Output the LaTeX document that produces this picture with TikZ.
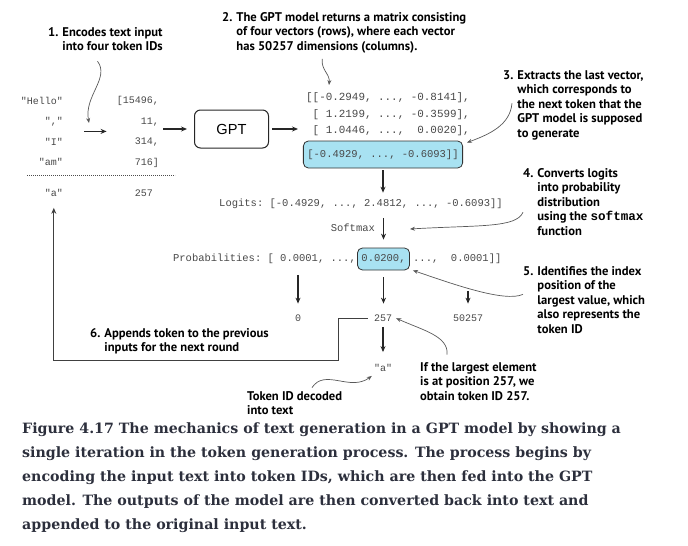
\documentclass[tikz,border=0pt]{standalone}
\usepackage{fontspec}
\usepackage{tikz}
\usetikzlibrary{arrows.meta}
\setmainfont{DejaVu Serif}
\setmonofont{Liberation Mono}
\newfontfamily\annfont{PT Sans}
\newfontfamily\gptfont{Liberation Sans}
\definecolor{hilite}{RGB}{168,226,242}
\definecolor{capgray}{RGB}{44,47,60}
\definecolor{codegray}{RGB}{72,72,72}
\tikzset{
  ann/.style={font=\annfont\bfseries\fontsize{12.6}{14.6}\selectfont,inner sep=0pt,anchor=base west},
  code/.style={font=\ttfamily\fontsize{10.5}{12}\selectfont,text=codegray,inner sep=0pt},
  smallcode/.style={code,font=\ttfamily\fontsize{10}{12}\selectfont},
  leftcode/.style={font=\ttfamily\fontsize{10}{20.5}\selectfont,text=codegray,inner sep=0pt,align=right,anchor=east},
  hibox/.style={code,draw=black!80,fill=hilite,rounded corners=5pt,line width=0.8pt,inner xsep=4pt},
  arr/.style={-{Stealth[length=6pt,width=5pt]},line width=1.1pt,draw=black!85},
  curly/.style={-{Stealth[length=5pt,width=4pt]},line width=0.7pt,draw=black!65},
  back/.style={-{Stealth[length=6pt,width=5pt]},line width=0.9pt,draw=black!75}
}

\begin{document}
\begin{tikzpicture}[x=1pt,y=-1pt]\useasboundingbox (0,0) rectangle (688,546);
\node[leftcode] (0) at (63,131.4) {"Hello"\\","\\"I"\\"am"};
\node[smallcode,anchor=base east] (4) at (63,196.5) {"a"};
\node[leftcode] (5) at (159,132) {[15496,\\11,\\314,\\716]};
\node[smallcode,anchor=base east] (9) at (153,196.5) {257};
\node[draw=black!85,rounded corners=6pt,line width=1pt,minimum width=74pt,minimum height=38pt,font=\gptfont\fontsize{14.6}{16}\selectfont] (10) at (231.5,129) {GPT};
\node[code,font=\ttfamily\fontsize{10.9}{12}\selectfont,anchor=base west] (11) at (306,100.5) {[[-0.2949, ..., -0.8141],};
\node[code,font=\ttfamily\fontsize{10.9}{12}\selectfont,anchor=base west] (12) at (306,117) {\phantom{[}[ 1.2199, ..., -0.3599],};
\node[code,font=\ttfamily\fontsize{10.9}{12}\selectfont,anchor=base west] (13) at (306,133) {\phantom{[}[ 1.0446, ..., \ 0.0020],};
\node[hibox,minimum height=27pt] (14) at (383,154.5) {[-0.4929, ..., -0.6093]]};
\node[code,anchor=base west] (15) at (219,206.5) {Logits: [-0.4929, ..., 2.4812, ..., -0.6093]]};
\node[hibox,minimum height=22pt] (17) at (383.5,259) {0.0200,};
\node[code,anchor=base east] (16) at ([xshift=-1pt]17.base west) {Probabilities: [ 0.0001, ...,};
\node[code,anchor=base west] (18) at ([xshift=3pt]17.base east) {..., \ 0.0001]]};
\node[smallcode,anchor=base] (19) at (298,321.5) {0};
\node[smallcode,anchor=base] (20) at (383,321.5) {257};
\node[smallcode,anchor=base] (21) at (468,321.5) {50257};
\node[smallcode,anchor=base] (22) at (383,371.5) {"a"};
\node[ann] (23) at (48,36) {\begin{tabular}[t]{@{}l@{\hspace{4pt}}l@{}}1. & Encodes text input\\ & into four token IDs\end{tabular}};
\node[ann] (24) at (222,21) {\begin{tabular}[t]{@{}l@{\hspace{4pt}}l@{}}2. & The GPT model returns a matrix consisting\\ & of four vectors (rows), where each vector\\ & has 50257 dimensions (columns).\end{tabular}};
\node[ann] (25) at (503,79) {\begin{tabular}[t]{@{}l@{\hspace{4pt}}l@{}}3. & Extracts the last vector,\\ & which corresponds to\\ & the next token that the\\ & GPT model is supposed\\ & to generate\end{tabular}};
\node[ann] (26) at (523,177) {\begin{tabular}[t]{@{}l@{\hspace{4pt}}l@{}}4. & Converts logits\\ & into probability\\ & distribution\\ & using the {\ttfamily softmax}\\ & function\end{tabular}};
\node[ann] (27) at (523,275) {\begin{tabular}[t]{@{}l@{\hspace{4pt}}l@{}}5. & Identifies the index\\ & position of the\\ & largest value, which\\ & also represents the\\ & token ID\end{tabular}};
\node[ann] (28) at (90,337) {\begin{tabular}[t]{@{}l@{\hspace{4pt}}l@{}}6. & Appends token to the previous\\ & inputs for the next round\end{tabular}};
\node[ann] (29) at (247,400) {\begin{tabular}[t]{@{}l@{}}Token ID decoded\\ into text\end{tabular}};
\node[ann] (30) at (420,371) {\begin{tabular}[t]{@{}l@{}}If the largest element\\ is at position 257, we\\ obtain token ID 257.\end{tabular}};
\node[inner sep=0pt,anchor=base west,text=capgray,font=\bfseries\fontsize{14.2}{24}\selectfont] (31) at (22,433) {\begin{tabular}[t]{@{}l@{}}Figure 4.17 The mechanics of text generation in a GPT model by showing a\\ single iteration in the token generation process. The process begins by\\ encoding the input text into token IDs, which are then fed into the GPT\\ model. The outputs of the model are then converted back into text and\\ appended to the original input text.\end{tabular}};

\coordinate (c1) at (89,123);
\coordinate (c2) at (329,85);
\coordinate (c4) at (410,229);
\coordinate (bend) at (338,360);
\draw[black!70,line width=0.8pt,dash pattern=on 0.9pt off 1.1pt] (27,175) -- (175,175);
\draw[arr,shorten <=21pt,shorten >=10pt] (0.east) -- (0.east -| 5.west);
\draw[arr,shorten <=4pt,shorten >=7pt] (5.east |- 10.west) -- (10.west);
\draw[arr,shorten <=3pt,shorten >=8pt] (10.east) -- (10.east -| 13.west);
\draw[arr,shorten <=2pt,shorten >=6pt] (14.south) -- (14.south |- 15.north);
\draw[arr,shorten <=9pt,shorten >=8pt] (17.north |- 15.south) -- node[code,anchor=east,xshift=-8pt] {Softmax} (17.north);
\draw[arr,shorten <=11pt,shorten >=11pt] (19.north |- 16.south) -- (19.north);
\draw[arr,shorten <=7pt,shorten >=11pt] (17.south) -- (17.south |- 20.north);
\draw[arr,shorten <=27pt,shorten >=11pt] (21.north |- 18.south) -- (21.north);
\draw[arr,shorten <=5pt,shorten >=12pt] (20.south) -- (22.north);
\draw[back,shorten <=6pt,shorten >=11pt] (20.west) -| (bend) -| (4.south);
\draw[curly] ([xshift=-8pt,yshift=-6pt]23.south) .. controls (110,78) and (84,96) .. (c1);
\draw[curly] ([xshift=-22pt,yshift=-4pt]24.south) .. controls (321,70) and (330,74) .. (c2);
\draw[curly] ([xshift=9pt,yshift=2pt]25.west) .. controls (510,125) and (490,134) .. ([xshift=4pt,yshift=-2pt]14.north east);
\draw[curly] ([yshift=-9pt]26.west) .. controls (516,228) and (480,225) .. (c4);
\draw[curly] ([yshift=7pt]27.west) .. controls (505,303) and (450,283) .. ([xshift=3pt]17.south east);
\draw[curly] ([xshift=27pt,yshift=6pt]30.north west) .. controls (449,336) and (422,330) .. ([xshift=4pt]20.east);
\draw[curly] ([xshift=65pt,yshift=2pt]29.north west) .. controls (325,368) and (350,392) .. ([xshift=-2pt,yshift=-8pt]22.west);
\end{tikzpicture}
\end{document}
